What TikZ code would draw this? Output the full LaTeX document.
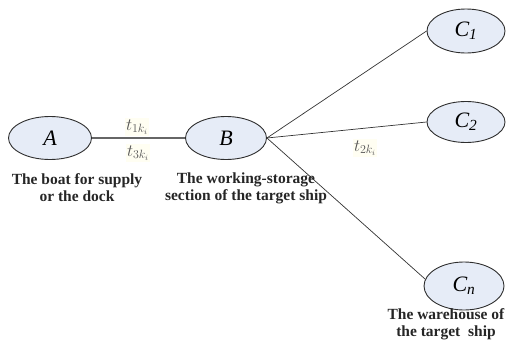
\documentclass[tikz,border=0pt]{standalone}
\usepackage{fontspec}
\setmainfont{Liberation Serif}
\usetikzlibrary{shapes.geometric}
\definecolor{nodefill}{HTML}{E6ECF7}
\definecolor{nodeedge}{HTML}{2E2E2E}
\definecolor{tlabel}{HTML}{555555}
\tikzset{
  place/.style={ellipse, draw=nodeedge, line width=0.9pt, fill=nodefill, inner sep=0pt,
    font=\fontsize{22}{24}\selectfont\itshape},
  caption/.style={align=center, font=\fontsize{15.5}{17}\selectfont\bfseries, text=black!85, inner sep=0pt},
  tlab/.style={text=tlabel, font=\fontsize{17}{18}\selectfont, inner sep=1pt, fill=yellow!5},
  link/.style={draw=black!80, line width=0.7pt},
  mainlink/.style={draw=black!60, line width=1.6pt}
}
\begin{document}
\begin{tikzpicture}[x=1pt,y=-1pt]
\useasboundingbox (0,0) rectangle (506,343);
\node[place, minimum width=83pt, minimum height=43pt] (A) at (50,138) {A};
\node[place, minimum width=81pt, minimum height=43pt] (B) at (226,138) {B};
\node[place, minimum width=78pt, minimum height=44pt] (C1) at (466,31) {C\textsubscript{1}};
\node[place, minimum width=78pt, minimum height=41pt] (C2) at (466,122) {C\textsubscript{2}};
\node[place, minimum width=80pt, minimum height=48pt] (Cn) at (464,286) {C\textsubscript{n}};
\draw[mainlink] (A) -- (B);
\draw[link] (B.east) -- (C1.west);
\draw[link] (B.east) -- (C2.west);
\draw[link] (B.east) -- (Cn.170);
\node[tlab] (t1) at (137,127) {$t_{1k_i}$};
\node[tlab] (t3) at (138,153) {$t_{3k_i}$};
\node[tlab] (t2) at (365,148) {$t_{2k_i}$};
\node[caption] (capA) at (77,188) {The boat for supply\\or the dock};
\node[caption] (capB) at (246,188) {The working-storage\\section of the target ship};
\node[caption] (capC) at (446,324) {The warehouse of\\the target\ \ ship};
\end{tikzpicture}
\end{document}
